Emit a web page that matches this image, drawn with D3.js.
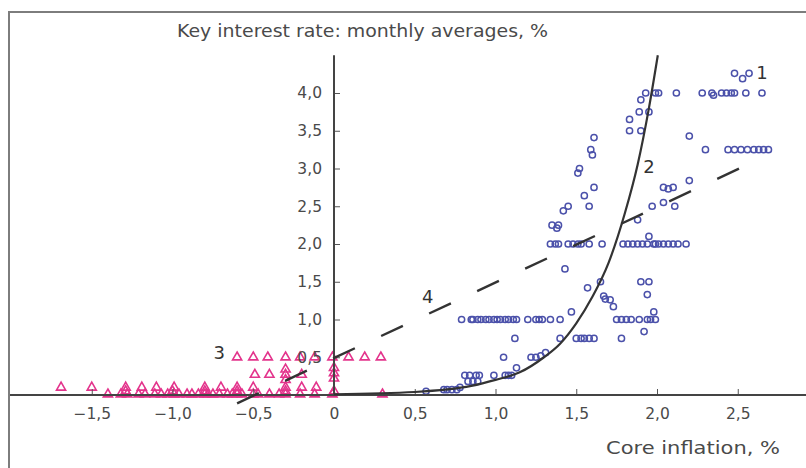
<!DOCTYPE html>
<html><head><meta charset="utf-8">
<script src="https://cdn.jsdelivr.net/npm/d3@7"></script>
<style>html,body{margin:0;padding:0;background:#fff;}svg{display:block;font-family:"DejaVu Sans",sans-serif;}</style>
</head><body>
<svg id="chart" width="806" height="468"></svg>
<script>
// ---- data ----
const xTicks = [-1.5, -1.0, -0.5, 0, 0.5, 1.0, 1.5, 2.0, 2.5];
const yTicks = [0.5, 1.0, 1.5, 2.0, 2.5, 3.0, 3.5, 4.0];
const titleY = "Key interest rate: monthly averages, %";
const titleX = "Core inflation, %";

// series 1: monthly observations, positive inflation (circles) [x, y]
const series1 = [
  [2.48,4.26],[2.53,4.19],[2.57,4.26],
  [1.93,4.0],[1.99,4.0],[2.01,4.0],[2.12,4.0],[2.28,4.0],[2.34,4.0],[2.35,3.97],[2.40,4.0],[2.43,4.0],[2.46,4.0],[2.48,4.0],[2.55,4.0],[2.65,4.0],
  [1.90,3.91],[1.89,3.75],[1.95,3.75],[1.83,3.65],[1.83,3.50],[1.90,3.50],
  [2.20,3.43],
  [2.30,3.25],[2.44,3.25],[2.48,3.25],[2.52,3.25],[2.56,3.25],[2.60,3.25],[2.63,3.25],[2.66,3.25],[2.69,3.25],
  [2.20,2.84],[2.10,2.75],[2.07,2.73],[2.04,2.75],[2.04,2.55],[1.97,2.5],[2.11,2.5],[1.88,2.32],[1.95,2.10],
  [1.61,3.41],[1.59,3.25],[1.60,3.18],[1.52,3.0],[1.51,2.94],[1.61,2.75],[1.55,2.64],[1.58,2.5],[1.42,2.44],[1.45,2.5],
  [1.35,2.25],[1.39,2.25],[1.38,2.21],
  [1.34,2.0],[1.37,2.0],[1.39,2.0],[1.45,2.0],[1.48,2.0],[1.51,2.0],[1.53,2.0],[1.58,2.0],[1.66,2.0],
  [1.79,2.0],[1.82,2.0],[1.85,2.0],[1.88,2.0],[1.91,2.0],[1.94,2.0],[1.98,2.0],[1.99,2.0],[2.01,2.0],[2.04,2.0],[2.07,2.0],[2.10,2.0],[2.13,2.0],[2.18,2.0],
  [1.43,1.67],[1.65,1.50],[1.90,1.50],[1.95,1.50],[1.57,1.42],[1.94,1.33],
  [1.67,1.31],[1.68,1.27],[1.71,1.26],[1.73,1.17],[1.47,1.10],[1.98,1.10],
  [0.79,1.0],[0.85,1.0],[0.86,1.0],[0.89,1.0],[0.91,1.0],[0.94,1.0],[0.96,1.0],[0.99,1.0],[1.01,1.0],[1.03,1.0],[1.06,1.0],[1.08,1.0],[1.11,1.0],[1.13,1.0],
  [1.20,1.0],[1.25,1.0],[1.27,1.0],[1.29,1.0],[1.34,1.0],[1.40,1.0],
  [1.75,1.0],[1.78,1.0],[1.81,1.0],[1.84,1.0],[1.89,1.0],[1.94,1.0],[1.96,1.0],[1.99,1.0],
  [1.92,0.84],
  [1.12,0.75],[1.40,0.75],[1.50,0.75],[1.53,0.75],[1.55,0.75],[1.58,0.75],[1.61,0.75],[1.78,0.75],
  [1.05,0.5],[1.22,0.5],[1.25,0.5],[1.28,0.52],[1.31,0.56],
  [1.13,0.36],
  [0.81,0.26],[0.84,0.26],[0.88,0.26],[0.90,0.26],[0.99,0.26],[1.06,0.26],[1.08,0.26],[1.10,0.26],
  [0.83,0.18],[0.86,0.18],[0.89,0.18],
  [0.57,0.05],[0.68,0.07],[0.70,0.07],[0.73,0.07],[0.76,0.07],[0.78,0.10]
];

// series 3: monthly observations, non-positive inflation (triangles) [x, y]
const series3 = [
  [-0.60,0.5],[-0.50,0.5],[-0.41,0.5],[-0.30,0.5],[-0.21,0.5],[-0.12,0.5],[-0.01,0.5],[0.09,0.5],[0.19,0.5],[0.29,0.5],
  [-0.49,0.27],[-0.40,0.27],[-0.30,0.34],[-0.30,0.27],[-0.20,0.27],
  [0.0,0.36],[0.0,0.29],[0.0,0.22],[-0.30,0.2],
  [-1.69,0.1],[-1.50,0.1],[-1.29,0.1],[-1.19,0.1],[-1.10,0.1],[-0.99,0.1],[-0.80,0.1],[-0.70,0.1],[-0.60,0.1],[-0.50,0.1],[-0.30,0.1],[-0.20,0.1],[-0.11,0.1],
  [-1.29,0.05],[-1.00,0.05],[-0.80,0.05],[-0.60,0.05],[-0.30,0.05],[0.0,0.05],
  [-1.40,0.01],[-1.32,0.01],[-1.28,0.01],[-1.21,0.01],[-1.17,0.01],[-1.11,0.01],[-1.07,0.01],[-1.03,0.01],[-0.99,0.01],[-0.96,0.01],
  [-0.91,0.01],[-0.88,0.01],[-0.84,0.01],[-0.80,0.01],[-0.78,0.01],[-0.75,0.01],[-0.71,0.01],[-0.66,0.01],[-0.63,0.01],[-0.60,0.01],
  [-0.57,0.01],[-0.50,0.01],[-0.47,0.01],[-0.40,0.01],[-0.34,0.01],[-0.30,0.01],[-0.21,0.01],[-0.12,0.01],[-0.01,0.01],[0.30,0.01]
];

// line 2: fitted curve
const curve2 = [[0,0.01],[0.5,0.04],[0.85,0.12],[1.0,0.2],[1.15,0.3],[1.3,0.5],[1.4,0.68],[1.5,0.95],[1.6,1.3],[1.7,1.75],[1.8,2.4],[1.88,3.05],[1.95,3.8],[2.005,4.5]];
// line 4: dashed straight line (endpoints)
const line4 = [[-0.6,-0.11],[2.51,3.0]];

// series labels
const labels = [
  {t:"1", x:2.65, y:4.27},
  {t:"2", x:1.95, y:3.03},
  {t:"3", x:-0.71, y:0.56},
  {t:"4", x:0.58, y:1.30}
];

// ---- drawing ----
const svg = d3.select("#chart");
const W = 806, H = 468;
const x = d3.scaleLinear().domain([-2, 2.5]).range([11, 737.75]);
const y = d3.scaleLinear().domain([0, 4]).range([395, 93]);

// frame
svg.append("path").attr("d", `M9,${H} V12 H${W}`).attr("fill","none")
  .attr("stroke","#7d7d7d").attr("stroke-width",2);

const blue = "#4b51aa", pink = "#e3348c";

// circles
svg.append("g").selectAll("circle").data(series1).join("circle")
  .attr("cx", d => x(d[0])).attr("cy", d => y(d[1])).attr("r", 3.1)
  .attr("fill","none").attr("stroke", blue).attr("stroke-width",1.5);

// triangles
const tri = d3.symbol().type(d3.symbolTriangle).size(36);
svg.append("g").selectAll("path").data(series3).join("path")
  .attr("d", tri).attr("transform", d => `translate(${x(d[0])},${y(d[1])})`)
  .attr("fill","none").attr("stroke", pink).attr("stroke-width",1.6);

// axes
const xAxis = d3.axisTop(x).tickValues(xTicks).tickSize(6).tickSizeOuter(0)
  .tickFormat(d => d3.format(".1f")(d).replace(".", ",").replace("-", "\u2212").replace(/^0,0$/, "0"));
const gx = svg.append("g").attr("transform", `translate(0,${y(0)})`).call(xAxis);
gx.select(".domain").remove();
gx.selectAll(".tick line").attr("stroke","#555").attr("stroke-width",1);
gx.selectAll(".tick text").attr("y", 24).attr("dy", 0).attr("fill","#4a4a4a")
  .style("font-size","15.5px").style("font-family","DejaVu Sans");
gx.selectAll(".tick").filter(d => d === 0).select("line").remove();
svg.append("line").attr("x1",10).attr("x2",W).attr("y1",y(0)).attr("y2",y(0))
  .attr("stroke","#444").attr("stroke-width",2);

const yAxis = d3.axisRight(y).tickValues(yTicks).tickSize(6).tickSizeOuter(0)
  .tickFormat(d => d3.format(".1f")(d).replace(".", ","));
const gy = svg.append("g").attr("transform", `translate(${x(0)},0)`).call(yAxis);
gy.select(".domain").remove();
gy.selectAll(".tick line").attr("stroke","#555").attr("stroke-width",1);
gy.selectAll(".tick text").attr("x", -12).attr("text-anchor","end").attr("fill","#4a4a4a")
  .style("font-size","15.5px").style("font-family","DejaVu Sans");
svg.append("line").attr("x1",x(0)).attr("x2",x(0)).attr("y1",y(0)).attr("y2",y(4.5))
  .attr("stroke","#444").attr("stroke-width",2);

// lines
const lg = d3.line().x(d => x(d[0])).y(d => y(d[1]));
svg.append("path").attr("d", lg.curve(d3.curveMonotoneX)(curve2)).attr("fill","none")
  .attr("stroke","#333").attr("stroke-width",2.2);
svg.append("path").attr("d", d3.line().x(d => x(d[0])).y(d => y(d[1]))(line4)).attr("fill","none")
  .attr("stroke","#333").attr("stroke-width",2.4).attr("stroke-dasharray","24,29");

// series labels
svg.append("g").selectAll("text").data(labels).join("text")
  .attr("x", d => x(d.x)).attr("y", d => y(d.y)).attr("text-anchor","middle")
  .attr("dy","0.35em").attr("fill","#333").style("font-size","18px").text(d => d.t);

// titles
svg.append("text").attr("x",177).attr("y",37).attr("fill","#4a4a4a")
  .attr("textLength",371).attr("lengthAdjust","spacingAndGlyphs")
  .style("font-size","18px").text(titleY);
svg.append("text").attr("x",606).attr("y",454).attr("fill","#4a4a4a")
  .attr("textLength",174).attr("lengthAdjust","spacingAndGlyphs")
  .style("font-size","18px").text(titleX);
</script>
</body></html>
